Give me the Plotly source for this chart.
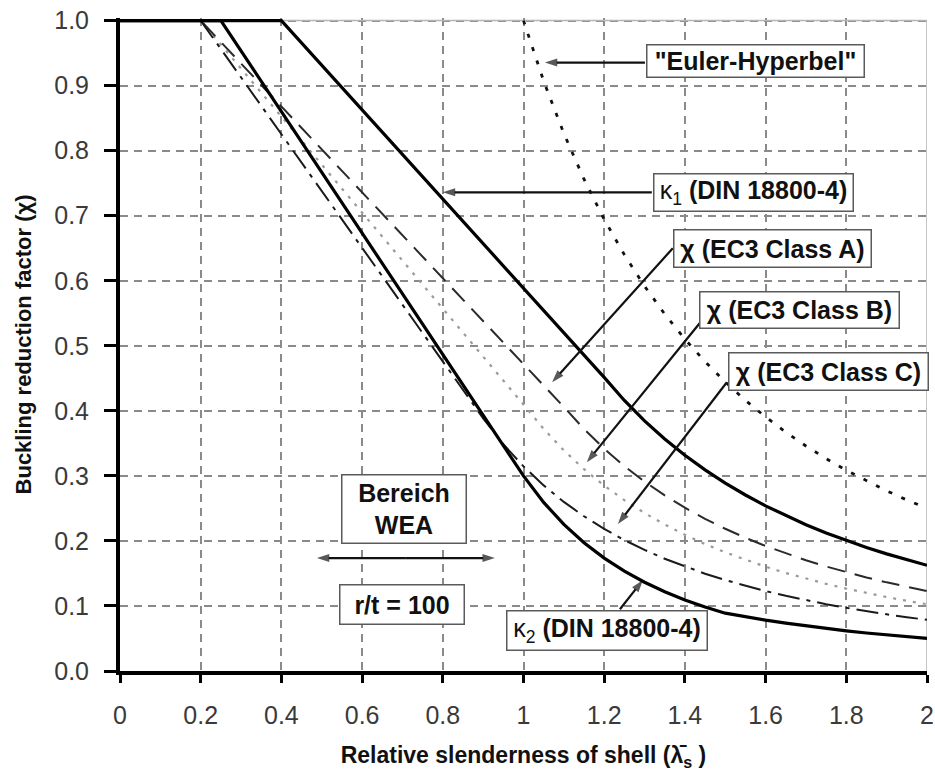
import plotly.graph_objects as go

# Buckling reduction curves against relative shell slenderness

# kappa_1 (DIN 18800-4)
k1_x = [0.0, 0.4, 1.2, 1.25, 1.3, 1.35, 1.4, 1.45, 1.5, 1.55, 1.6, 1.65, 1.7, 1.75, 1.8, 1.85, 1.9, 1.95, 2.0]
k1_y = [1.0, 1.0, 0.4514, 0.416, 0.3846, 0.3567, 0.3316, 0.3092, 0.2889, 0.2706, 0.2539, 0.2388, 0.2249, 0.2122, 0.2006, 0.1899, 0.1801, 0.1709, 0.1625]

# kappa_2 (DIN 18800-4)
k2_x = [0.0, 0.25, 1.0, 1.05, 1.1, 1.15, 1.2, 1.25, 1.3, 1.35, 1.4, 1.45, 1.5, 1.55, 1.6, 1.65, 1.7, 1.75, 1.8, 1.85, 1.9, 1.95, 2.0]
k2_y = [1.0, 1.0, 0.3, 0.2592, 0.2254, 0.1973, 0.1736, 0.1536, 0.1365, 0.1219, 0.1093, 0.0984, 0.0889, 0.0832, 0.0781, 0.0735, 0.0692, 0.0653, 0.0617, 0.0584, 0.0554, 0.0526, 0.05]

# EC3 fabrication quality class A
ca_x = [0.0, 0.2, 1.109, 1.15, 1.2, 1.25, 1.3, 1.35, 1.4, 1.45, 1.5, 1.55, 1.6, 1.65, 1.7, 1.75, 1.8, 1.85, 1.9, 1.95, 2.0]
ca_y = [1.0, 1.0, 0.4, 0.3721, 0.3418, 0.3149, 0.2912, 0.27, 0.2511, 0.234, 0.2187, 0.2048, 0.1922, 0.1807, 0.1703, 0.1607, 0.1519, 0.1438, 0.1363, 0.1294, 0.123]

# EC3 fabrication quality class B
cb_x = [0.0, 0.2, 1.013, 1.05, 1.1, 1.15, 1.2, 1.25, 1.3, 1.35, 1.4, 1.45, 1.5, 1.55, 1.6, 1.65, 1.7, 1.75, 1.8, 1.85, 1.9, 1.95, 2.0]
cb_y = [1.0, 1.0, 0.4, 0.3722, 0.3392, 0.3103, 0.285, 0.2627, 0.2428, 0.2252, 0.2094, 0.1952, 0.1824, 0.1708, 0.1603, 0.1507, 0.142, 0.134, 0.1267, 0.1199, 0.1137, 0.1079, 0.1026]

# EC3 fabrication quality class C
cc_x = [0.0, 0.2, 0.887, 0.9, 0.95, 1.0, 1.05, 1.1, 1.15, 1.2, 1.25, 1.3, 1.35, 1.4, 1.45, 1.5, 1.55, 1.6, 1.65, 1.7, 1.75, 1.8, 1.85, 1.9, 1.95, 2.0]
cc_y = [1.0, 1.0, 0.4, 0.3884, 0.3486, 0.3146, 0.2854, 0.26, 0.2379, 0.2185, 0.2013, 0.1862, 0.1726, 0.1605, 0.1496, 0.1398, 0.1309, 0.1229, 0.1156, 0.1089, 0.1027, 0.0971, 0.0919, 0.0871, 0.0827, 0.0787]

# Euler hyperbola
eu_x = [1.0, 1.05, 1.1, 1.15, 1.2, 1.25, 1.3, 1.35, 1.4, 1.45, 1.5, 1.55, 1.6, 1.65, 1.7, 1.75, 1.8, 1.85, 1.9, 1.95, 2.0]
eu_y = [1.0, 0.907, 0.8264, 0.7561, 0.6944, 0.64, 0.5917, 0.5487, 0.5102, 0.4756, 0.4444, 0.4162, 0.3906, 0.3673, 0.346, 0.3265, 0.3086, 0.2922, 0.277, 0.263, 0.25]

x_ticks = [0, 0.2, 0.4, 0.6, 0.8, 1.0, 1.2, 1.4, 1.6, 1.8, 2.0]
x_tick_text = ["0", "0.2", "0.4", "0.6", "0.8", "1", "1.2", "1.4", "1.6", "1.8", "2"]
y_ticks = [0.0, 0.1, 0.2, 0.3, 0.4, 0.5, 0.6, 0.7, 0.8, 0.9, 1.0]

FONT = "Liberation Sans, Arial, sans-serif"
INK = "#111111"

fig = go.Figure()

fig.add_trace(go.Scatter(x=cb_x, y=cb_y, mode="lines",
                         line=dict(color="#9a9a9a", width=2.2, dash="3px,7px")))
fig.add_trace(go.Scatter(x=ca_x, y=ca_y, mode="lines",
                         line=dict(color="#2a2a2a", width=2, dash="18px,10px")))
fig.add_trace(go.Scatter(x=cc_x, y=cc_y, mode="lines",
                         line=dict(color="#1a1a1a", width=2, dash="22px,7px,4px,7px")))
fig.add_trace(go.Scatter(x=eu_x, y=eu_y, mode="lines",
                         line=dict(color="#111111", width=2.8, dash="4px,10px")))
fig.add_trace(go.Scatter(x=k1_x, y=k1_y, mode="lines",
                         line=dict(color="#000000", width=3.2)))
fig.add_trace(go.Scatter(x=k2_x, y=k2_y, mode="lines",
                         line=dict(color="#000000", width=3.2)))

# thin grey frame on top and right
fig.add_shape(type="line", x0=0, x1=2, y0=1, y1=1, xref="x", yref="y",
              line=dict(color="#b5b5b5", width=1.5), layer="between")
fig.add_shape(type="line", x0=2, x1=2, y0=0, y1=1, xref="x", yref="y",
              line=dict(color="#b5b5b5", width=1.5), layer="between")

# pointer arrows: tail -> head, arrowhead oriented along the segment
arrows = [
    # (tail_x, tail_y, head_x, head_y)
    (1.301, 0.9355, 1.053, 0.9355),
    (1.318, 0.736, 0.800, 0.736),
    (1.370, 0.650, 1.071, 0.444),
    (1.437, 0.535, 1.157, 0.321),
    (1.504, 0.444, 1.234, 0.226),
    (1.239, 0.095, 1.296, 0.140),
    # WEA range, drawn outward from its middle in both directions
    (0.7085, 0.1736, 0.929, 0.1736),
    (0.7085, 0.1736, 0.488, 0.1736),
]
for tx, ty, hx, hy in arrows:
    fig.add_trace(go.Scatter(
        x=[tx, hx], y=[ty, hy], mode="lines+markers",
        line=dict(color=INK, width=2.2),
        marker=dict(symbol=["circle", "arrow"], size=[0, 13], color=INK,
                    angleref="previous", line=dict(width=0)),
        hoverinfo="skip"))

# labelled boxes: (text, centre_x, centre_y, width, height)
boxes = [
    ("<b>\"Euler-Hyperbel\"</b>", 1.574, 0.938, 214, 29),
    ("κ<sub>1</sub> <b>(DIN 18800-4)</b>", 1.569, 0.736, 196, 34),
    ("<b>χ (EC3 Class A)</b>", 1.618, 0.650, 194, 34),
    ("<b>χ (EC3 Class B)</b>", 1.685, 0.555, 196, 33),
    ("<b>χ (EC3 Class C)</b>", 1.755, 0.461, 196, 34),
    ("κ<sub>2</sub> <b>(DIN 18800-4)</b>", 1.206, 0.063, 197, 36),
    ("<b>Bereich<br>WEA</b>", 0.703, 0.2496, 121, 65),
    ("<b>r/t = 100</b>", 0.698, 0.103, 121, 36),
]
for txt, cx, cy, w, h in boxes:
    fig.add_annotation(x=cx, y=cy, xref="x", yref="y", text=txt, showarrow=False,
                       xanchor="center", yanchor="middle", width=w, height=h,
                       align="center", valign="middle",
                       font=dict(family=FONT, size=25, color=INK),
                       bgcolor="white", bordercolor="#5a5a5a", borderwidth=1.5,
                       borderpad=1)

fig.update_layout(
    width=935, height=771,
    margin=dict(l=120, r=8, t=18, b=100),
    paper_bgcolor="white", plot_bgcolor="white",
    showlegend=False,
    font=dict(family=FONT, color="#3a3a3a"),
)

fig.update_xaxes(
    range=[0, 2], tickvals=x_ticks, ticktext=x_tick_text, automargin=False,
    showline=True, linecolor="black", linewidth=4,
    ticks="outside", ticklen=8, tickwidth=3, tickcolor="black",
    showgrid=True, gridcolor="#8a8a8a", gridwidth=1.5, griddash="8px,6px",
    zeroline=False, tickfont=dict(family=FONT, size=25, color="#3a3a3a"),
    ticklabelstandoff=11,
    title=dict(text="<b>Relative slenderness of shell (λ̄<sub>s</sub> )</b>",
               font=dict(family=FONT, size=23, color=INK), standoff=21),
)
fig.update_yaxes(
    range=[0, 1.004], tickvals=y_ticks, tickformat=".1f", automargin=False,
    showline=True, linecolor="black", linewidth=4,
    ticks="outside", ticklen=12, tickwidth=3, tickcolor="black",
    showgrid=True, gridcolor="#8a8a8a", gridwidth=1.5, griddash="8px,6px",
    zeroline=False, tickfont=dict(family=FONT, size=25, color="#3a3a3a"),
    ticklabelstandoff=10,
    title=dict(text="<b>Buckling reduction factor (χ)</b>",
               font=dict(family=FONT, size=22, color=INK), standoff=18),
)

fig.write_html("out.html")
